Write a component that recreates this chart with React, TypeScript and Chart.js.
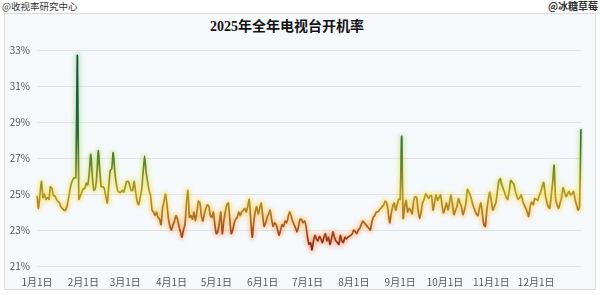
import React, { useEffect, useRef } from "react";
import { Chart, registerables } from "chart.js";

Chart.register(...registerables);

// 2025 daily TV switch-on rate (%)
const jan = [24.9, 24.2, 25.0, 25.7, 24.8, 25.0, 24.7, 24.8, 24.7, 25.4, 25.3, 24.9, 24.9, 24.7, 24.6, 24.5, 24.3, 24.2, 24.1, 24.1, 24.3, 24.7, 25.2, 25.6, 25.8, 25.9, 25.9, 32.7, 24.7, 24.9, 25.1];
const feb = [25.3, 25.3, 25.6, 25.5, 26.2, 27.2, 26.0, 25.2, 25.3, 26.0, 27.4, 26.3, 25.4, 25.4, 25.3, 24.9, 24.5, 25.4, 26.3, 26.4, 27.3, 26.3, 25.6, 25.2, 25.1, 25.1, 25.2, 25.1];
const mar = [25.4, 25.7, 25.7, 25.5, 25.2, 25.2, 25.7, 25.1, 24.6, 24.4, 24.8, 25.2, 26.2, 27.1, 26.2, 25.7, 25.2, 24.9, 24.1, 24.0, 23.8, 24.0, 23.7, 23.6, 23.3, 24.2, 24.6, 25.0, 24.4, 23.6, 23.2];
const apr = [23.0, 23.3, 23.5, 23.8, 23.6, 23.2, 22.9, 22.6, 23.0, 23.3, 24.5, 25.2, 23.7, 23.8, 23.6, 24.0, 23.5, 24.0, 24.6, 24.5, 23.8, 23.5, 23.9, 24.2, 24.4, 24.3, 23.8, 23.7, 24.0, 23.3];
const may = [22.8, 22.9, 23.4, 24.0, 22.8, 23.5, 24.0, 24.4, 24.5, 23.6, 22.8, 23.0, 23.4, 23.6, 23.7, 24.0, 23.8, 24.0, 24.1, 24.2, 24.0, 24.3, 24.7, 23.6, 22.6, 23.4, 24.0, 24.3, 23.9, 24.2, 24.5];
const jun = [23.8, 23.2, 23.4, 23.7, 23.9, 24.1, 23.6, 23.2, 23.4, 23.3, 23.0, 22.7, 23.0, 23.3, 23.2, 23.5, 23.4, 23.7, 24.0, 23.8, 23.5, 23.3, 23.1, 22.9, 23.2, 23.6, 23.6, 23.4, 23.5, 23.2];
const jul = [22.6, 22.2, 22.3, 21.9, 22.4, 22.7, 22.5, 22.4, 22.65, 22.5, 22.3, 22.6, 22.8, 22.4, 22.6, 22.2, 22.5, 22.9, 22.6, 22.4, 22.3, 22.2, 22.7, 22.4, 22.3, 22.6, 22.5, 22.6, 22.65, 22.7, 22.8];
const aug = [23.0, 22.9, 22.8, 23.0, 23.1, 23.3, 23.5, 23.4, 23.3, 23.2, 23.1, 23.0, 23.4, 23.7, 23.8, 24.0, 24.0, 24.1, 24.2, 24.3, 24.4, 24.6, 24.5, 24.0, 23.4, 23.9, 24.3, 24.5, 24.1, 24.4, 24.7];
const sep = [24.7, 28.2, 23.65, 24.3, 24.65, 24.0, 24.2, 24.1, 23.9, 24.6, 24.85, 24.8, 24.1, 23.65, 24.0, 24.5, 24.7, 25.0, 24.9, 24.75, 24.9, 24.9, 24.1, 24.5, 24.95, 24.65, 24.8, 24.95, 24.4, 23.95];
const oct = [24.2, 24.5, 24.1, 24.5, 24.95, 24.4, 23.85, 24.1, 24.3, 24.75, 24.5, 24.3, 23.85, 24.1, 24.5, 25.25, 25.1, 24.9, 24.6, 24.3, 24.1, 23.9, 23.8, 24.2, 24.5, 23.9, 23.3, 23.2, 24.1, 24.7, 25.1];
const nov = [24.6, 24.1, 24.3, 24.5, 25.1, 25.7, 25.85, 25.5, 25.3, 25.05, 24.8, 24.7, 25.2, 25.75, 25.65, 25.55, 25.2, 24.9, 24.7, 24.8, 24.95, 24.6, 24.4, 24.2, 24.0, 23.75, 24.3, 24.55, 24.4, 24.75];
const dec = [24.7, 24.65, 24.9, 25.1, 25.4, 25.65, 25.0, 24.6, 24.3, 24.2, 24.85, 25.6, 26.6, 24.7, 24.4, 24.2, 24.5, 24.8, 25.35, 25.1, 24.85, 25.0, 25.15, 24.95, 25.0, 25.15, 24.7, 24.4, 24.1, 24.3, 28.6];

const months = [jan, feb, mar, apr, may, jun, jul, aug, sep, oct, nov, dec];
const values: number[] = months.flat();
const dayLabels: string[] = [];
months.forEach((m, mi) => m.forEach((_, di) => dayLabels.push(`${mi + 1}月${di + 1}日`)));

const monthTickLabels = ["1月1日", "2月1日", "3月1日", "4月1日", "5月1日", "6月1日", "7月1日", "8月1日", "9月1日", "10月1日", "11月1日", "12月1日"];
const yMin = 21;
const yMax = 33;
const yStep = 2;

const titleText = "2025年全年电视台开机率";
const leftMark = "@收视率研究中心";
const rightMark = "@冰糖草莓";

const lineStops: [number, string][] = [
  [33, "#0d4a34"],
  [30, "#175e3c"],
  [28, "#2f7035"],
  [27, "#54802c"],
  [26, "#868d2a"],
  [25, "#b09a2a"],
  [24, "#ad7c26"],
  [23, "#a4501e"],
  [22, "#8c2614"],
  [21, "#701810"],
];
const glowStops: [number, string][] = [
  [33, "rgba(90,190,110,0.4)"],
  [28, "rgba(150,210,80,0.42)"],
  [26, "rgba(220,225,60,0.48)"],
  [25, "rgba(255,220,40,0.52)"],
  [24, "rgba(255,190,40,0.48)"],
  [23, "rgba(255,140,40,0.42)"],
  [22, "rgba(240,80,40,0.38)"],
  [21, "rgba(220,60,40,0.38)"],
];

function gradient(chart: any, stops: [number, string][], fallback: string) {
  const { ctx, chartArea, scales } = chart;
  if (!chartArea || !scales || !scales.y) return fallback;
  const top = scales.y.getPixelForValue(yMax);
  const bottom = scales.y.getPixelForValue(yMin);
  const g = ctx.createLinearGradient(0, top, 0, bottom);
  for (const [v, c] of stops) g.addColorStop((yMax - v) / (yMax - yMin), c);
  return g;
}

const glowPlugin = {
  id: "glowBlur",
  beforeDatasetDraw(chart: any, args: any) {
    if (args.index === 1) {
      chart.ctx.save();
      chart.ctx.filter = "blur(2px)";
    }
  },
  afterDatasetDraw(chart: any, args: any) {
    if (args.index === 1) chart.ctx.restore();
  },
};

export default function App() {
  const ref = useRef<HTMLCanvasElement>(null);

  useEffect(() => {
    document.body.style.margin = "0";
    if (!ref.current) return;
    const font = { family: '"Noto Sans CJK SC", "Noto Sans", sans-serif', size: 10 };
    const chart = new Chart(ref.current, {
      type: "line",
      data: {
        labels: dayLabels,
        datasets: [
          {
            data: values,
            borderColor: (c: any) => gradient(c.chart, lineStops, "#b09a2a"),
            borderWidth: 1.7,
            pointRadius: 0,
            tension: 0.2,
            fill: false,
          },
          {
            data: values,
            borderColor: (c: any) => gradient(c.chart, glowStops, "rgba(255,220,40,0.5)"),
            borderWidth: 5,
            pointRadius: 0,
            tension: 0.2,
            fill: false,
          },
        ],
      },
      options: {
        responsive: false,
        animation: false,
        events: [],
        layout: { padding: { top: 50, right: 19, bottom: 0, left: 0 } },
        plugins: { legend: { display: false }, tooltip: { enabled: false }, title: { display: false } },
        scales: {
          x: {
            type: "category",
            grid: { display: false },
            border: { display: false },
            ticks: {
              autoSkip: false,
              maxRotation: 0,
              minRotation: 0,
              padding: 2,
              color: "#555",
              font,
              callback: function (this: any, v: any) {
                const l = this.getLabelForValue(v);
                return monthTickLabels.includes(l) ? l : null;
              },
            },
            afterFit: (s: any) => {
              s.height = 29;
            },
          },
          y: {
            min: yMin,
            max: yMax,
            grid: { color: "#e0e4e7", drawTicks: false },
            border: { display: false },
            ticks: {
              stepSize: yStep,
              padding: 7,
              color: "#555",
              font,
              callback: (v: any) => `${v}%`,
            },
            afterFit: (s: any) => {
              s.width = 37;
            },
          },
        },
      },
      plugins: [glowPlugin],
    } as any);
    return () => chart.destroy();
  }, []);

  return (
    <div
      style={{
        position: "relative",
        width: 600,
        height: 295,
        background: "#fff",
        overflow: "hidden",
        fontFamily: '"Noto Sans CJK SC", sans-serif',
      }}
    >
      <div style={{ position: "absolute", left: 2, top: 0, fontSize: 9.5, lineHeight: "12px", color: "#333" }}>{leftMark}</div>
      <div style={{ position: "absolute", right: 2, top: 0, fontSize: 10, lineHeight: "12px", color: "#333", fontWeight: "bold" }}>{rightMark}</div>
      <div
        style={{
          position: "absolute",
          left: 4,
          top: 13,
          width: 592,
          height: 277,
          boxSizing: "border-box",
          border: "1px solid #dadada",
          background: "#f6f9fb",
        }}
      />
      <div
        style={{
          position: "absolute",
          left: 0,
          top: 17,
          width: 574,
          textAlign: "center",
          fontSize: 14,
          lineHeight: "20px",
          fontWeight: "bold",
          color: "#111",
          fontFamily: '"Liberation Serif", "Noto Sans CJK SC", serif',
        }}
      >
        {titleText}
      </div>
      <canvas ref={ref} width={600} height={295} style={{ position: "absolute", left: 0, top: 0 }} />
    </div>
  );
}
